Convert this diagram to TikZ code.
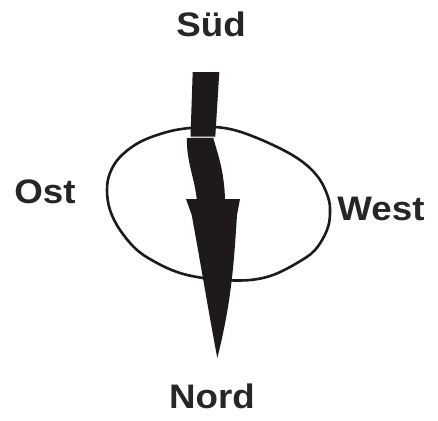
\documentclass[tikz,border=0pt]{standalone}
\usepackage{fontspec}
\setmainfont{Liberation Sans}
\definecolor{ink}{HTML}{1E1A1A}
\definecolor{txt}{HTML}{262626}
\tikzset{
  lbl/.style={font=\bfseries\fontsize{34}{40}\selectfont, text=txt, inner sep=0pt, anchor=base, xscale=1.08, transform shape},
  rim/.style={draw=ink, line width=2.6pt},
  arrowbody/.style={fill=ink, draw=none}
}
\begin{document}
\begin{tikzpicture}[x=1pt,y=-1pt]
\useasboundingbox[fill=white] (0,0) rectangle (438,420);
% ellipse-like ring
\draw[rim] plot[smooth cycle, tension=0.6] coordinates {
 (190,128) (215,127) (240,131.7) (273,145) (300,160) (318,177) (328,197)
 (330,213) (327,230) (315,250) (297,263) (273,275) (250,280) (222,280)
 (197,277) (177,272) (157,263) (137,250) (120,230) (110,210) (107,190)
 (110,173) (120,157) (140,142) (167,132)};
% arrow
\fill[arrowbody] (192.7,72) -- (219.3,72) -- (215.3,136.5) -- (190.5,136.5) -- cycle;
\fill[arrowbody] (187,138) -- (213.3,138)
  .. controls (218,155) and (224,170) .. (225,199)
  -- (240,199) -- (237,215)
  .. controls (234,260) and (232,300) .. (217.3,358)
  .. controls (210,320) and (200,260) .. (191.7,215)
  -- (186,199) -- (196.7,199)
  .. controls (195,180) and (186,160) .. (187,138) -- cycle;
\draw[gray!40, line width=0.8pt] (190.7,137.3) -- (214,137.3);
% labels
\node[lbl] (sued) at (211,37) {Süd};
\node[lbl] (nord) at (212,408) {Nord};
\node[lbl] (ost) at (45,203) {Ost};
\node[lbl] (west) at (381,220) {West};
\end{tikzpicture}
\end{document}
